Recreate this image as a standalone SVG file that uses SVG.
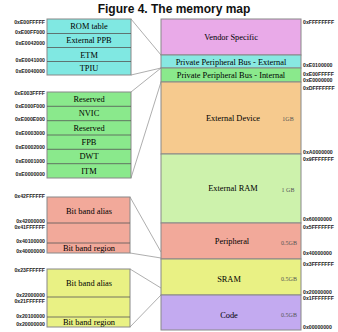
<svg xmlns="http://www.w3.org/2000/svg" width="338" height="332" viewBox="0 0 338 332">
<style>
.title{font-family:"Liberation Sans",Arial,sans-serif;font-weight:bold;font-size:12px;fill:#111}
.lbl{font-family:"Liberation Serif","Times New Roman",serif;font-size:8.4px;fill:#000;text-anchor:middle}
.sz{font-family:"Liberation Serif","Times New Roman",serif;font-size:6px;fill:#555;text-anchor:middle}
.addr{font-family:"Liberation Sans",Arial,sans-serif;font-weight:bold;font-size:5.2px;fill:#222}
.addrL{text-anchor:end}
.box{stroke:#888;stroke-width:1}
.sep{stroke:#555;stroke-width:0.8}
.con{stroke:#999;stroke-width:0.8;fill:none}
</style>
<rect width="338" height="332" fill="#fff"/>
<text class="title" x="174" y="13" text-anchor="middle">Figure 4. The memory map</text>

<g id="connectors">
<line class="con" x1="131" y1="19" x2="161" y2="55"/>
<line class="con" x1="131" y1="75" x2="161" y2="68"/>
<line class="con" x1="131" y1="92" x2="161" y2="68"/>
<line class="con" x1="131" y1="178" x2="161" y2="82"/>
<line class="con" x1="130" y1="197" x2="161" y2="252"/>
<line class="con" x1="130" y1="253" x2="161" y2="258"/>
<line class="con" x1="130" y1="269" x2="161" y2="288"/>
<line class="con" x1="130" y1="327" x2="161" y2="295"/>
</g>

<g id="map">
<g id="vendor"><rect class="box" x="161" y="19" width="140" height="36" fill="#e9aae8"/><text class="lbl" x="231" y="40">Vendor Specific</text></g>
<g id="ppb-ext"><rect class="box" x="161" y="55" width="140" height="13" fill="#88e8e2"/><text class="lbl" x="231" y="64.5">Private Peripheral Bus - External</text></g>
<g id="ppb-int"><rect class="box" x="161" y="68" width="140" height="14" fill="#8ae98c"/><text class="lbl" x="231" y="77.5">Private Peripheral Bus - Internal</text></g>
<g id="ext-dev"><rect class="box" x="161" y="82" width="140" height="72" fill="#f6ca8e"/><text class="lbl" x="233" y="120.5">External Device</text><text class="sz" x="288" y="120.5">1GB</text></g>
<g id="ext-ram"><rect class="box" x="161" y="154" width="140" height="69" fill="#cdf2ac"/><text class="lbl" x="233" y="190.5">External RAM</text><text class="sz" x="288" y="191.5">1 GB</text></g>
<g id="periph"><rect class="box" x="161" y="223" width="140" height="36" fill="#f2a99a"/><text class="lbl" x="232" y="243.5">Peripheral</text><text class="sz" x="289" y="244.5">0.5GB</text></g>
<g id="sram"><rect class="box" x="161" y="259" width="140" height="36" fill="#e9f184"/><text class="lbl" x="229" y="281.5">SRAM</text><text class="sz" x="289" y="280.5">0.5GB</text></g>
<g id="code"><rect class="box" x="161" y="295" width="140" height="35" fill="#c3aaf0"/><text class="lbl" x="229" y="317.5">Code</text><text class="sz" x="289" y="316.5">0.5GB</text></g>
</g>

<g id="map-addresses">
<text class="addr" x="303" y="23.8">0xFFFFFFFF</text>
<text class="addr" x="303" y="66.8">0xE0100000</text>
<text class="addr" x="303" y="75.8">0xE00FFFFF</text>
<text class="addr" x="303" y="81.8">0xE0000000</text>
<text class="addr" x="303" y="89.8">0xDFFFFFFF</text>
<text class="addr" x="303" y="153.8">0xA0000000</text>
<text class="addr" x="303" y="160.8">0x9FFFFFFF</text>
<text class="addr" x="303" y="220.8">0x60000000</text>
<text class="addr" x="303" y="228.8">0x5FFFFFFF</text>
<text class="addr" x="303" y="254.8">0x40000000</text>
<text class="addr" x="303" y="265.8">0x3FFFFFFF</text>
<text class="addr" x="303" y="293.8">0x20000000</text>
<text class="addr" x="303" y="299.8">0x1FFFFFFF</text>
<text class="addr" x="303" y="328.8">0x00000000</text>
</g>

<g id="ppb-ext-detail">
<rect class="box" x="47" y="19" width="84" height="56" fill="#80e8e2"/>
<line class="sep" x1="47" y1="33.5" x2="131" y2="33.5"/>
<line class="sep" x1="47" y1="47.5" x2="131" y2="47.5"/>
<line class="sep" x1="47" y1="61.5" x2="131" y2="61.5"/>
<text class="lbl" x="89" y="29">ROM table</text>
<text class="lbl" x="89" y="43">External PPB</text>
<text class="lbl" x="89" y="57.5">ETM</text>
<text class="lbl" x="89" y="71">TPIU</text>
<text class="addr addrL" x="45" y="23.8">0xE00FFFFF</text>
<text class="addr addrL" x="45" y="33.8">0xE00FF000</text>
<text class="addr addrL" x="45" y="44.8">0xE0042000</text>
<text class="addr addrL" x="45" y="61.8">0xE0041000</text>
<text class="addr addrL" x="45" y="72.8">0xE0040000</text>
</g>

<g id="ppb-int-detail">
<rect class="box" x="47" y="92" width="84" height="86" fill="#8ae98c"/>
<line class="sep" x1="47" y1="106.3" x2="131" y2="106.3"/>
<line class="sep" x1="47" y1="120.7" x2="131" y2="120.7"/>
<line class="sep" x1="47" y1="135" x2="131" y2="135"/>
<line class="sep" x1="47" y1="149.3" x2="131" y2="149.3"/>
<line class="sep" x1="47" y1="163.7" x2="131" y2="163.7"/>
<text class="lbl" x="89" y="102">Reserved</text>
<text class="lbl" x="89" y="116.3">NVIC</text>
<text class="lbl" x="89" y="130.5">Reserved</text>
<text class="lbl" x="89" y="145">FPB</text>
<text class="lbl" x="89" y="159.3">DWT</text>
<text class="lbl" x="89" y="173.5">ITM</text>
<text class="addr addrL" x="45" y="94.8">0xE003FFFF</text>
<text class="addr addrL" x="45" y="107.8">0xE000F000</text>
<text class="addr addrL" x="45" y="120.8">0xE000E000</text>
<text class="addr addrL" x="45" y="134.8">0xE0003000</text>
<text class="addr addrL" x="45" y="148.8">0xE0002000</text>
<text class="addr addrL" x="45" y="162.8">0xE0001000</text>
<text class="addr addrL" x="45" y="175.8">0xE0000000</text>
</g>

<g id="periph-detail">
<rect class="box" x="47" y="197" width="83" height="56" fill="#f2a99a"/>
<line class="sep" x1="47" y1="223" x2="130" y2="223"/>
<line class="sep" x1="47" y1="243" x2="130" y2="243"/>
<text class="lbl" x="89" y="214">Bit band alias</text>
<text class="lbl" x="89" y="250.5">Bit band region</text>
<text class="addr addrL" x="45" y="197.8">0x42FFFFFF</text>
<text class="addr addrL" x="45" y="222.8">0x42000000</text>
<text class="addr addrL" x="45" y="228.8">0x41FFFFFF</text>
<text class="addr addrL" x="45" y="242.8">0x40100000</text>
<text class="addr addrL" x="45" y="252.8">0x40000000</text>
</g>

<g id="sram-detail">
<rect class="box" x="47" y="269" width="83" height="58" fill="#e9f184"/>
<line class="sep" x1="47" y1="297" x2="130" y2="297"/>
<line class="sep" x1="47" y1="317" x2="130" y2="317"/>
<text class="lbl" x="89" y="286">Bit band alias</text>
<text class="lbl" x="89" y="325">Bit band region</text>
<text class="addr addrL" x="45" y="271.8">0x23FFFFFF</text>
<text class="addr addrL" x="45" y="296.8">0x22000000</text>
<text class="addr addrL" x="45" y="302.8">0x21FFFFFF</text>
<text class="addr addrL" x="45" y="317.8">0x20100000</text>
<text class="addr addrL" x="45" y="325.8">0x20000000</text>
</g>
</svg>
